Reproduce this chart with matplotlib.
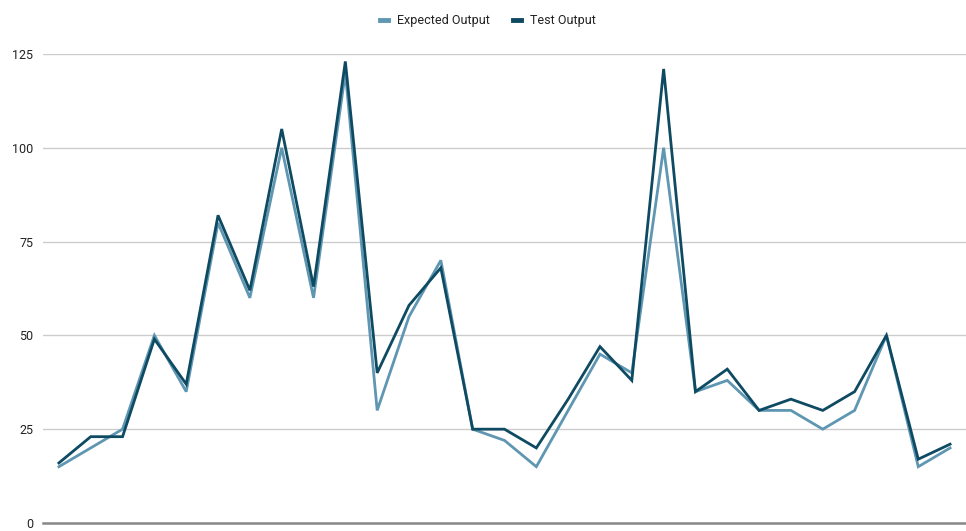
import matplotlib
matplotlib.use("Agg")
import matplotlib.pyplot as plt

# values, one per category
expected = [15, 20, 25, 50, 35, 80, 60, 100, 60, 120, 30, 55, 70, 25, 22,
            15, 30, 45, 40, 100, 35, 38, 30, 30, 25, 30, 50, 15, 20]
test = [16, 23, 23, 49, 37, 82, 62, 105, 63, 123, 40, 58, 68, 25, 25,
        20, 33, 47, 38, 121, 35, 41, 30, 33, 30, 35, 50, 17, 21]
yticks = [0, 25, 50, 75, 100, 125]

plt.rcParams['font.family'] = ['Roboto', 'DejaVu Sans']

fig = plt.figure(figsize=(9.66, 5.31), dpi=100)
ax = fig.add_axes([0.0445, 0.0151, 0.9555, 0.8833])

x = list(range(len(expected)))
ax.plot(x, expected, color='#5f96b2', lw=2, label='Expected Output',
        clip_on=False, zorder=3, solid_joinstyle='miter')
ax.plot(x, test, color='#0e4a62', lw=2, label='Test Output',
        clip_on=False, zorder=4, solid_joinstyle='miter')

ax.set_xlim(-0.5, len(expected) - 0.5)
ax.set_ylim(0, 125)
ax.set_yticks(yticks)
ax.set_yticklabels([str(v) for v in yticks])
ax.set_xticks([])
ax.grid(axis='y', color='#cccccc', lw=1)
ax.set_axisbelow(True)
for s in ['top', 'right', 'left']:
    ax.spines[s].set_visible(False)
ax.spines['bottom'].set_color('#888888')
ax.spines['bottom'].set_linewidth(1.8)
ax.tick_params(axis='y', length=0, pad=7, labelsize=9, labelcolor='#222222')

fig.legend(loc='upper center', bbox_to_anchor=(0.505, 0.995), ncol=2,
           frameon=False, fontsize=9, handlelength=0.7, handleheight=0.5,
           columnspacing=1.8, handletextpad=0.7, labelcolor='#222222')
for h in fig.legends[0].get_lines():
    h.set_linewidth(3.5)

fig.savefig('out.png', dpi=100)
